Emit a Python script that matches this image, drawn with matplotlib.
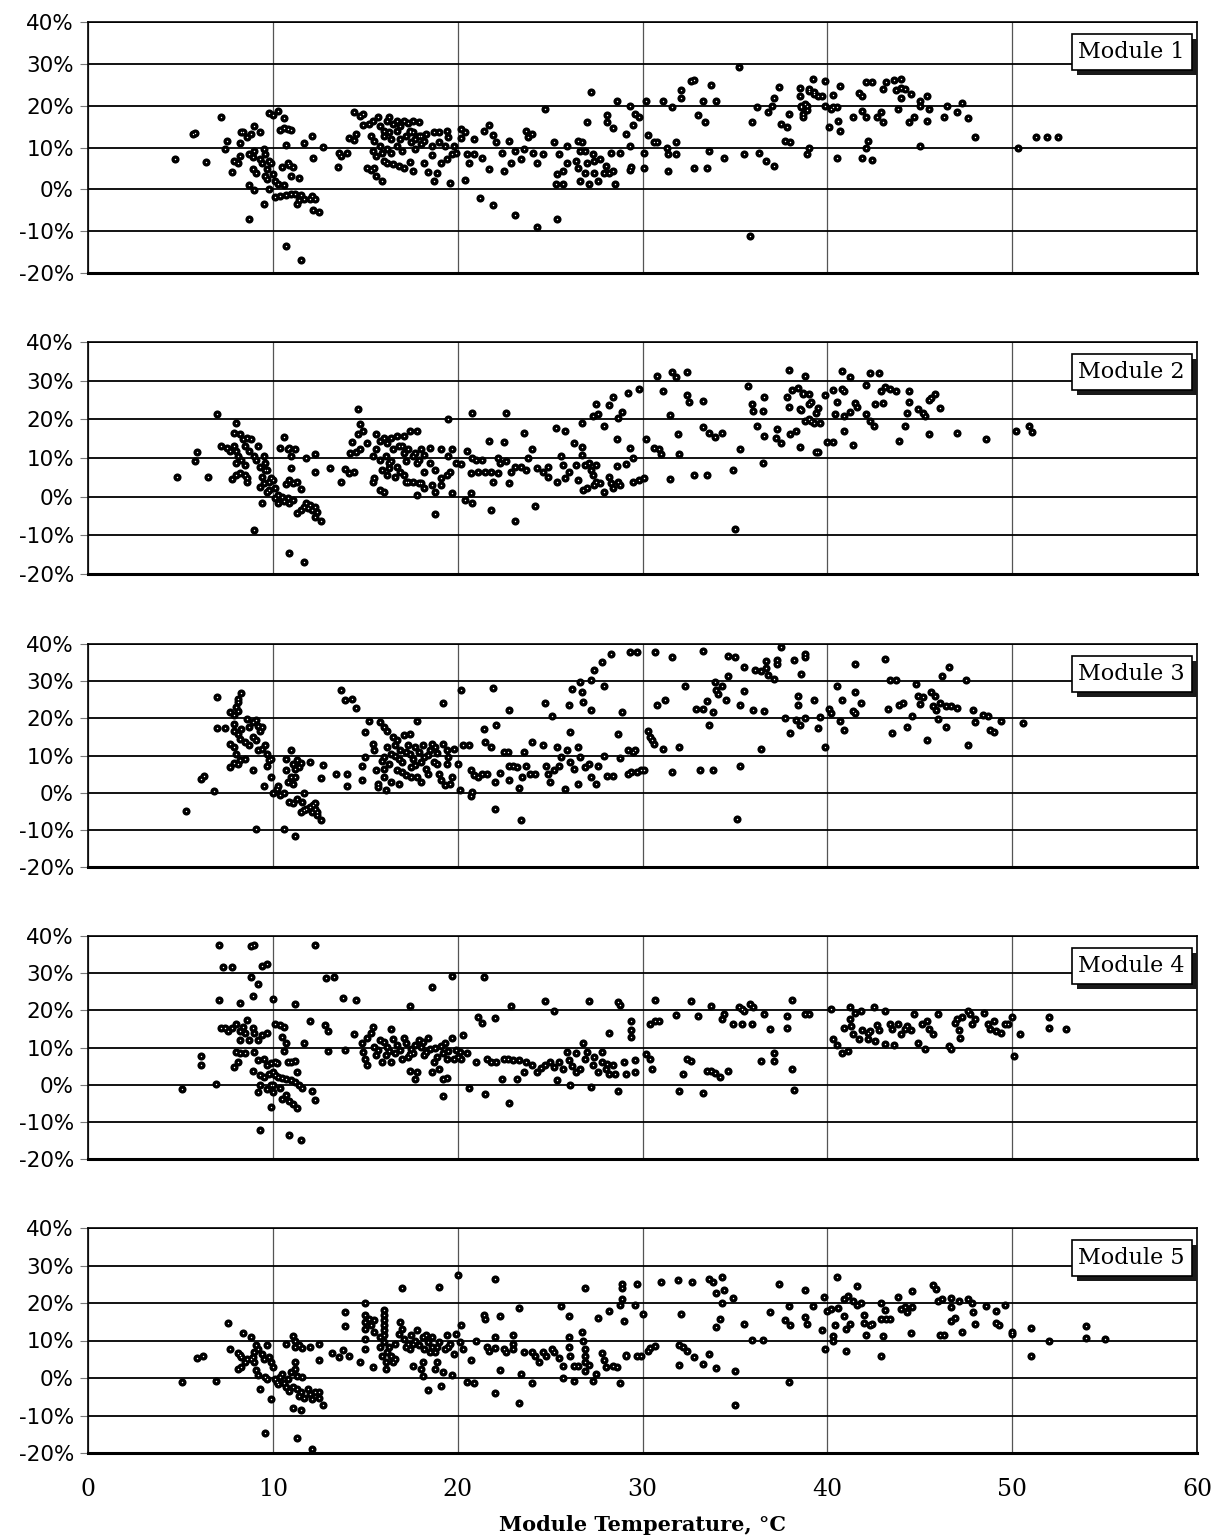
import matplotlib.pyplot as plt
import matplotlib.patheffects as pe
from matplotlib.transforms import offset_copy

# (module temperature in degC, deviation in %) for each module
module1 = [
    (4.7, 7.2), (5.7, 13.2), (5.8, 13.4), (6.4, 6.6), (7.2, 17.4), (7.4, 9.6), (7.5, 11.6),
    (7.8, 4.2), (7.9, 6.8), (8.1, 6.4), (8.2, 8.0), (8.2, 11.0), (8.3, 13.8), (8.4, 13.6),
    (8.6, 12.4), (8.8, 13.2), (9.0, 15.2), (9.3, 13.6), (8.7, 8.4), (8.9, 7.8), (8.9, 4.8),
    (9.0, 9.2), (9.1, 4.0), (9.3, 7.2), (9.4, 6.4), (9.5, 9.6), (9.6, 8.4), (9.7, 4.8),
    (9.8, 6.8), (9.9, 6.4), (9.6, 3.2), (9.7, 2.4), (8.7, 1.0), (9.0, -0.2), (9.5, -3.5),
    (8.7, -7.2), (9.8, 18.2), (10.0, 17.8), (10.3, 18.8), (10.6, 17.0), (10.4, 14.2),
    (10.6, 14.6), (10.8, 14.4), (11.0, 14.2), (10.7, 10.6), (10.5, 5.4), (10.8, 6.2),
    (10.9, 5.8), (11.1, 5.4), (11.0, 3.2), (11.4, 2.8), (10.0, 3.6), (10.1, 2.0), (10.3, 1.2),
    (10.6, 1.0), (9.8, 0.0), (10.1, -1.8), (10.4, -1.6), (10.7, -1.4), (11.0, -1.2),
    (11.2, -1.2), (11.5, -1.4), (11.7, -2.2), (12.0, -2.2), (12.1, -1.6), (12.3, -2.2),
    (11.3, -3.4), (11.4, -2.6), (12.2, -5.0), (12.5, -5.4), (10.7, -13.6), (11.5, -16.8),
    (11.7, 11.0), (12.1, 12.8), (12.2, 7.4), (12.7, 10.2), (13.5, 5.4), (13.6, 8.8),
    (13.7, 8.0), (14.0, 8.8), (14.1, 12.2), (14.4, 11.8), (14.5, 13.2), (14.4, 18.4),
    (14.7, 17.6), (14.9, 18.0), (14.9, 15.4),
    (15.2, 15.6), (15.4, 16.4), (15.7, 17.2), (15.8, 15.2), (16.0, 14.0), (16.2, 16.4),
    (16.3, 17.2), (16.5, 15.6), (16.7, 16.4), (16.9, 15.2), (17.1, 16.4), (17.3, 15.8),
    (17.6, 16.4), (17.9, 16.2), (15.3, 12.8), (15.5, 11.6), (15.8, 10.4), (16.0, 12.8),
    (16.3, 13.6), (16.4, 12.0), (16.7, 14.0), (16.9, 12.0), (17.2, 12.8), (17.4, 13.6),
    (17.7, 12.0), (17.9, 12.8), (15.4, 9.2), (15.6, 8.0), (15.9, 8.8), (16.2, 9.6),
    (16.4, 8.8), (16.7, 10.4), (17.0, 9.2), (17.7, 9.6), (15.1, 5.0), (15.3, 4.6),
    (15.5, 5.2), (15.6, 3.2), (15.9, 2.0), (16.0, 6.8), (16.2, 6.4), (16.5, 6.0),
    (16.8, 5.6), (17.1, 5.0), (17.4, 6.6), (17.6, 4.4),
    (17.4, 14.0), (17.6, 13.6), (18.0, 12.8), (18.3, 13.2), (18.7, 13.6), (19.0, 13.8),
    (19.4, 14.0), (19.5, 12.4), (17.5, 11.2), (18.0, 10.8), (18.2, 11.6), (18.6, 10.4),
    (19.0, 11.2), (19.3, 10.4), (19.8, 10.4), (18.6, 8.2), (19.1, 6.4), (19.4, 7.2),
    (19.7, 8.4), (19.9, 8.8), (18.2, 6.4), (18.4, 4.2), (18.7, 2.0), (18.9, 4.0), (19.6, 1.4),
    (20.2, 14.4), (20.4, 13.6), (20.2, 12.2), (20.5, 8.4), (20.6, 6.4), (20.4, 2.2),
    (20.9, 12.0), (20.9, 8.4), (21.3, 7.6), (21.4, 14.0), (21.7, 15.4), (21.9, 13.0),
    (21.7, 4.8), (22.1, 11.2), (22.4, 8.8), (22.5, 4.4), (22.8, 11.6), (22.9, 6.4),
    (23.1, 9.2), (23.4, 7.2), (23.6, 9.6), (23.7, 14.0), (24.0, 13.2), (23.8, 12.4),
    (24.1, 8.8), (24.3, 6.4), (24.6, 8.4), (24.7, 19.2), (25.2, 11.2), (25.4, 3.6),
    (25.7, 4.4), (25.3, 1.2), (25.7, 1.2), (25.5, 8.4), (25.9, 10.4), (25.9, 6.4),
    (26.5, 11.6), (26.7, 11.2), (26.4, 6.8), (26.5, 5.2), (26.6, 9.2), (26.9, 9.2),
    (27.0, 6.4), (26.6, 2.0), (26.9, 4.0), (27.1, 1.2), (27.3, 8.4), (27.4, 6.8),
    (27.4, 4.0), (27.7, 7.2), (27.6, 2.0), (27.9, 4.0), (28.0, 5.6), (28.2, 4.0),
    (28.4, 4.4), (28.5, 1.2), (28.3, 8.8), (28.8, 8.8), (27.2, 23.2), (27.0, 16.2),
    (28.1, 17.8), (28.1, 16.0), (28.4, 14.6), (29.1, 13.2), (29.3, 10.4), (29.3, 4.6),
    (29.4, 5.4), (29.5, 15.4), (29.6, 18.0), (29.8, 17.2), (28.6, 21.0), (29.3, 20.0),
    (21.2, -2.0), (21.9, -3.8), (23.1, -6.2), (24.3, -9.0), (25.4, -7.0),
    (30.1, 8.8), (30.1, 5.0), (30.2, 21.2), (30.3, 13.0), (30.6, 11.2), (30.8, 11.2),
    (31.1, 21.2), (31.3, 10.0), (31.4, 8.4), (31.4, 4.4), (31.6, 19.6), (31.8, 11.2),
    (31.8, 8.4), (32.1, 23.8), (32.1, 21.8), (32.6, 26.0), (32.8, 26.2), (32.8, 5.0),
    (33.0, 17.8), (33.3, 21.2), (33.4, 16.2), (33.5, 5.0), (33.6, 9.2), (33.7, 25.0),
    (34.0, 21.2), (34.4, 7.4), (35.2, 29.2), (35.5, 8.4), (35.8, -11.2), (35.9, 16.2),
    (36.2, 19.6), (36.3, 8.6), (36.7, 6.8), (36.8, 18.6), (37.0, 20.0), (37.1, 21.8),
    (37.1, 5.6), (37.4, 24.4), (37.5, 15.6), (37.8, 14.8), (37.7, 11.6), (38.0, 11.4),
    (37.9, 18.0), (38.5, 22.4), (38.5, 24.2), (38.6, 19.6), (38.7, 18.0), (38.8, 20.4),
    (38.9, 19.0), (39.0, 24.0), (39.2, 26.4), (39.3, 23.2), (39.0, 10.0), (38.9, 8.4),
    (39.5, 22.4), (39.0, 23.6), (39.3, 22.8), (39.9, 26.0), (39.7, 22.2), (38.6, 20.0),
    (38.9, 20.0), (38.7, 17.2), (39.9, 20.0), (40.2, 19.2), (40.3, 19.6), (40.5, 19.6),
    (40.3, 22.6), (40.7, 24.6), (40.1, 15.0), (40.6, 16.4), (40.7, 14.0), (40.5, 7.4),
    (41.4, 17.2), (41.7, 23.0), (41.9, 22.4), (41.9, 18.8), (42.1, 17.2), (42.1, 25.6),
    (42.4, 25.6), (42.2, 11.6), (42.1, 9.8), (41.9, 7.4), (42.4, 7.0), (42.7, 17.2),
    (42.9, 18.6), (43.0, 16.0), (43.0, 24.0), (43.2, 25.6), (43.6, 26.2), (44.0, 26.4),
    (43.7, 23.8), (44.0, 24.2), (44.2, 24.0), (44.0, 21.8), (43.8, 19.2), (44.5, 22.8),
    (44.4, 16.0), (44.7, 17.2), (45.0, 21.2), (45.0, 20.0), (45.4, 22.4), (45.5, 19.2),
    (45.4, 16.4), (45.0, 10.4), (46.3, 17.2), (46.5, 20.0), (47.0, 18.6), (47.3, 20.6),
    (47.6, 17.0), (48.0, 12.6), (50.3, 10.0), (51.3, 12.4), (51.9, 12.6), (52.5, 12.6),
]

module2 = [
    (4.8, 5.2), (5.8, 9.1), (5.9, 11.5), (6.5, 5.2), (7.0, 21.5), (7.2, 13.2), (7.5, 12.6),
    (7.7, 11.7), (7.9, 13.0), (8.0, 11.7), (7.9, 16.5), (8.0, 19.0), (8.2, 16.1), (8.4, 14.8),
    (8.6, 15.2), (8.8, 14.8), (8.5, 13.0), (8.7, 11.7), (8.1, 10.4), (8.0, 8.7), (8.3, 9.6),
    (8.5, 8.3), (8.2, 6.1), (8.0, 5.7), (7.8, 4.5), (8.5, 5.7), (8.6, 4.8), (8.6, 3.9),
    (9.0, 10.4), (9.2, 13.0), (9.1, 9.6), (9.5, 10.4), (9.6, 8.7), (9.3, 7.8), (9.6, 7.0),
    (9.4, 5.2), (9.7, 7.0), (9.3, 2.6), (9.5, 3.5), (9.8, 3.9), (9.9, 4.8), (10.0, 4.3),
    (10.1, 2.2), (9.8, 1.7), (9.7, 1.3), (9.4, -1.6), (9.0, -8.7),
    (10.3, 0.4), (10.5, 0.0), (10.1, -0.4), (10.3, -1.7), (10.6, -1.0), (10.8, -0.4),
    (10.9, -1.7), (11.1, -0.9), (11.3, -4.3), (11.5, -3.5), (11.7, -2.6), (11.8, -1.7),
    (11.9, -3.0), (12.1, -3.5), (12.3, -2.6), (12.4, -3.9), (12.3, -5.2), (12.6, -6.3),
    (12.0, -2.2), (10.4, 12.6), (10.6, 15.4), (10.8, 12.2), (10.9, 12.6), (11.0, 10.4),
    (11.2, 12.2), (11.0, 7.4), (10.7, 3.3), (10.9, 4.2), (11.1, 3.5), (11.3, 3.7),
    (11.5, 1.9), (11.8, 10.0), (12.3, 11.0), (12.3, 6.3), (13.1, 7.4), (10.9, -14.5),
    (11.7, -17.0), (13.7, 3.9), (13.9, 7.1), (14.1, 6.1), (14.4, 6.3), (14.2, 11.3),
    (14.3, 14.1), (14.5, 11.6), (14.7, 12.2), (14.6, 16.1), (14.7, 18.7), (14.6, 22.8),
    (14.9, 17.0), (15.1, 13.9),
    (15.4, 3.7), (15.5, 4.8), (15.8, 1.7), (16.0, 1.3), (15.4, 10.4), (15.6, 12.2),
    (15.6, 16.1), (15.8, 14.3), (16.0, 15.2), (16.2, 13.9), (16.4, 15.2), (16.7, 15.7),
    (17.1, 15.7), (17.4, 17.0), (17.8, 17.0), (15.8, 9.6), (16.1, 10.4), (16.3, 8.7),
    (16.5, 12.2), (16.8, 13.0), (17.1, 11.3), (17.3, 12.2), (17.6, 10.4), (17.9, 9.6),
    (15.9, 7.0), (16.2, 5.7), (16.3, 7.4), (16.6, 5.2), (16.9, 6.5), (17.1, 5.7),
    (17.2, 3.9), (17.6, 3.9), (17.9, 3.5), (17.8, 0.4), (16.4, 9.1), (16.7, 7.8),
    (17.0, 13.0), (17.7, 11.3), (18.0, 12.2), (18.2, 10.9), (18.5, 12.6), (17.2, 9.1),
    (17.8, 8.7), (18.2, 6.5), (18.5, 8.7), (17.3, 3.7), (18.0, 3.5), (18.2, 2.2),
    (18.6, 3.0), (18.8, 1.3), (19.1, 3.0), (19.1, 4.8), (19.4, 5.7), (19.6, 6.5),
    (19.7, 0.9), (18.8, 6.8), (19.1, 12.2), (19.7, 12.3), (19.5, 10.6), (19.9, 8.7),
    (18.8, -4.6), (19.5, 20.0),
    (20.2, 8.5), (20.5, 11.7), (20.8, 10.0), (20.8, 21.6), (21.0, 9.6), (21.3, 9.6),
    (20.7, 6.1), (21.1, 6.5), (21.5, 6.5), (21.7, 14.3), (21.8, 6.5), (22.2, 10.0),
    (22.3, 8.7), (22.6, 9.1), (22.5, 14.1), (22.6, 21.6), (22.2, 6.1), (21.9, 3.9),
    (22.8, 3.5), (22.9, 6.3), (23.1, 7.8), (23.4, 7.8), (23.7, 7.0), (23.8, 10.0),
    (24.0, 12.2), (23.6, 16.5), (24.3, 7.4), (24.6, 6.5), (24.9, 7.8), (24.9, 5.2),
    (25.4, 3.9), (25.6, 10.4), (25.7, 8.3), (25.8, 4.8), (26.0, 6.3), (25.3, 17.8),
    (25.8, 17.0), (26.3, 13.9), (26.4, 8.3), (26.5, 4.3), (26.7, 12.9), (26.7, 10.9),
    (26.7, 19.0), (26.9, 8.3), (27.1, 8.7), (27.2, 7.0), (27.3, 5.7), (27.5, 8.3),
    (27.4, 3.0), (26.8, 1.7), (27.0, 2.2), (27.5, 3.9), (27.7, 3.5), (27.9, 1.3),
    (28.2, 5.2), (28.3, 3.5), (28.4, 2.2), (28.7, 3.9), (28.8, 3.0), (28.6, 8.0),
    (27.3, 20.9), (27.5, 23.9), (27.6, 21.3), (28.2, 23.8), (28.4, 25.9), (27.9, 18.3),
    (28.6, 15.0), (28.7, 20.4), (28.9, 22.0), (29.2, 26.7), (29.3, 12.6), (29.1, 8.4),
    (29.5, 10.0), (29.8, 27.8), (29.5, 3.7), (29.8, 4.2), (30.1, 4.8), (21.8, -3.5),
    (20.8, -1.6), (20.4, -0.9), (23.1, -6.3), (24.2, -2.4), (20.7, 1.0),
    (30.2, 15.0), (30.6, 12.6), (30.9, 12.3), (31.0, 11.1), (30.8, 31.3), (31.1, 27.4),
    (31.6, 32.3), (31.8, 30.9), (32.4, 32.2), (31.5, 21.0), (31.9, 16.3), (32.0, 11.1),
    (31.5, 4.5), (32.4, 26.4), (32.5, 24.5), (32.8, 5.5), (33.3, 24.7), (33.3, 18.1),
    (33.6, 16.5), (33.9, 15.5), (33.5, 5.5), (34.3, 16.5), (34.9, 7.0), (35.0, -8.3),
    (35.3, 12.2), (35.7, 28.5), (35.9, 23.9), (36.0, 22.2), (36.5, 22.2), (36.2, 18.3),
    (36.6, 15.8), (36.6, 25.7), (36.5, 8.7), (37.2, 15.2), (37.3, 17.6), (37.5, 13.9),
    (37.8, 25.7), (37.9, 32.8), (37.9, 23.3), (38.1, 27.6), (38.4, 28.0), (38.0, 16.1),
    (38.3, 17.0), (38.5, 12.9), (38.6, 22.4), (38.7, 26.5), (39.0, 26.5), (39.1, 24.5),
    (39.1, 19.6), (39.4, 21.7), (39.5, 11.5), (38.8, 31.1),
    (38.5, 22.6), (38.7, 26.8), (39.0, 24.0), (38.8, 19.6), (39.0, 20.0), (39.3, 19.1),
    (39.6, 19.0), (39.5, 23.0), (39.9, 26.3), (39.4, 11.5), (40.0, 14.1), (40.3, 14.1),
    (40.3, 27.6), (40.8, 27.8), (40.9, 27.2), (40.8, 32.4), (41.2, 30.9), (40.5, 24.5),
    (40.4, 21.3), (40.9, 20.9), (41.2, 21.9), (40.9, 17.0), (41.4, 13.3), (41.5, 24.2),
    (41.6, 23.3), (42.1, 21.3), (42.1, 28.9), (42.3, 32.0), (42.8, 32.0), (42.3, 19.6),
    (42.5, 18.4), (42.6, 23.9), (43.0, 24.1), (42.9, 27.2), (43.1, 28.3), (43.4, 27.8),
    (43.7, 27.4), (44.4, 27.4), (44.4, 24.5), (44.3, 21.6), (44.2, 18.3), (43.9, 14.3),
    (44.9, 22.6), (45.2, 21.7), (45.3, 20.9), (45.5, 25.0), (45.6, 25.4), (45.8, 26.5),
    (46.1, 22.9), (45.5, 16.3), (47.0, 16.5), (48.6, 15.0), (50.2, 17.0), (50.9, 18.4),
    (51.1, 16.7),
]

module3 = [
    (5.3, -4.8), (6.1, 3.7), (6.3, 4.4), (6.8, 0.4), (7.0, 25.7), (7.0, 17.5), (7.4, 17.5),
    (7.7, 6.9), (7.9, 8.0), (8.1, 7.6), (8.2, 8.7), (8.5, 9.1), (7.7, 21.7), (7.9, 21.0),
    (8.0, 23.0), (8.1, 24.4), (8.1, 25.2), (8.3, 26.8), (8.1, 22.0), (7.9, 18.5),
    (7.9, 16.7), (8.1, 15.8), (8.3, 17.2), (8.6, 19.9), (8.7, 17.6), (8.9, 19.0),
    (9.1, 19.6), (9.2, 18.0), (9.3, 16.7), (9.4, 17.8), (7.7, 13.2), (7.9, 12.3),
    (8.0, 10.3), (8.2, 14.5), (8.5, 13.6), (8.7, 12.7), (8.9, 15.0), (9.1, 14.1),
    (9.2, 11.4), (9.4, 11.8), (9.6, 12.7), (9.7, 10.5), (9.7, 7.1), (9.8, 8.7), (9.9, 9.1),
    (8.9, 6.2), (9.5, 1.9), (9.1, -9.9),
    (9.9, 4.2), (10.0, 0.0), (10.2, 1.1), (10.3, 1.7), (10.4, -0.7), (10.6, -0.1),
    (10.7, 6.0), (10.8, 2.9), (10.7, 9.1), (11.0, 11.4), (11.0, 4.2), (11.1, 7.8),
    (11.2, 6.4), (11.3, 8.7), (11.4, 6.9), (11.5, 8.0), (11.2, 4.2), (11.1, 2.2),
    (10.9, -2.5), (11.1, -2.8), (11.3, -1.6), (11.6, -2.5), (11.7, 0.0), (11.8, -4.3),
    (12.0, -3.8), (12.2, -3.4), (12.3, -2.8), (12.1, -5.2), (12.3, -4.3), (11.5, -5.2),
    (11.7, -4.7), (12.4, -6.1), (12.4, -5.2), (12.6, -7.3), (12.0, 8.2), (10.6, -9.9),
    (11.2, -11.6), (12.6, 4.0), (12.7, 7.5), (13.4, 5.1), (14.0, 5.1), (14.0, 1.7),
    (14.8, 3.5), (13.7, 27.5), (13.9, 25.0), (14.3, 25.3), (14.5, 22.8), (14.8, 7.3),
    (15.0, 9.6), (15.0, 16.3), (15.2, 19.4),
    (15.4, 13.2), (15.5, 11.4), (15.6, 6.0), (15.7, 2.4), (15.7, 1.5), (15.8, 19.0),
    (16.0, 17.6), (16.0, 9.6), (16.0, 4.2), (16.1, 0.8), (16.2, 16.7), (16.2, 12.3),
    (16.3, 7.8), (16.4, 2.9), (16.5, 15.0), (16.6, 10.0), (16.7, 6.0), (16.7, 14.1),
    (16.8, 2.4), (16.9, 11.4), (17.0, 8.2), (17.1, 15.4), (17.2, 4.7), (17.3, 12.7),
    (17.4, 10.5), (17.4, 15.7), (17.5, 6.9), (17.6, 9.1), (17.7, 12.3), (17.8, 19.2),
    (17.8, 4.2), (17.9, 10.9), (18.0, 8.2), (18.0, 2.9), (18.1, 12.7), (18.2, 9.6),
    (18.3, 6.4), (18.4, 5.1), (18.5, 11.4), (18.6, 13.2), (18.7, 8.2), (18.8, 12.3),
    (18.9, 7.8), (19.0, 5.1), (19.1, 3.3), (19.2, 13.2), (19.3, 2.0), (19.4, 7.8),
    (19.5, 9.6), (19.6, 2.2), (19.7, 4.2), (19.2, 24.1), (16.4, 10.5), (16.8, 9.1),
    (17.2, 10.9), (16.0, 6.4), (17.5, 4.2), (15.9, 8.5), (16.6, 12.8), (17.0, 5.6),
    (17.7, 7.4), (18.4, 10.2), (18.9, 10.6), (19.4, 11.6),
    (19.8, 11.8), (20.0, 7.8), (20.1, 0.8), (20.2, 27.5), (20.3, 12.7), (20.6, 12.7),
    (20.7, 6.0), (20.7, -1.0), (20.8, 0.2), (20.9, 4.7), (21.1, 4.2), (21.3, 5.1),
    (21.4, 17.2), (21.5, 13.6), (21.6, 5.1), (21.8, 12.3), (21.9, 28.1), (22.0, 3.0),
    (22.0, -4.5), (22.1, 18.1), (22.3, 5.3), (22.5, 10.9), (22.7, 10.9), (22.8, 22.3),
    (22.8, 7.3), (22.8, 3.3), (23.0, 7.3), (23.2, 6.9), (23.3, 1.3), (23.4, -7.3),
    (23.5, 4.2), (23.6, 10.9), (23.7, 7.3), (23.9, 5.1), (24.0, 13.6), (24.2, 5.1),
    (24.6, 12.7), (24.7, 24.1), (24.8, 7.3), (24.9, 5.1), (25.0, 2.9), (25.1, 20.5),
    (25.2, 6.0), (25.4, 12.3), (25.5, 7.3), (25.6, 9.6), (25.8, 1.1), (25.9, 11.4),
    (26.0, 23.5), (26.1, 8.2), (26.1, 16.3), (26.2, 27.9), (26.3, 6.4), (26.5, 12.4),
    (26.5, 2.4), (26.6, 29.7), (26.6, 9.6), (26.7, 27.0), (26.8, 24.4), (26.9, 6.9),
    (27.1, 7.8), (27.2, 30.2), (27.2, 22.3), (27.2, 4.2), (27.4, 32.9), (27.5, 2.4),
    (27.6, 7.3), (27.8, 35.1), (27.9, 10.0), (27.9, 28.8), (28.1, 4.4), (28.3, 37.3),
    (28.4, 4.4), (28.7, 15.7), (28.8, 9.3), (28.9, 21.7), (29.2, 11.4), (29.2, 5.1),
    (29.3, 37.8), (29.4, 5.6), (29.5, 10.9), (29.6, 11.5), (29.7, 5.6), (29.9, 6.0),
    (30.1, 6.0), (29.7, 37.8), (30.3, 16.7), (30.4, 15.0), (30.5, 14.1), (30.6, 13.2),
    (30.7, 37.8), (30.8, 23.5), (31.1, 11.8), (31.2, 25.0), (31.6, 5.6), (31.6, 36.4),
    (32.0, 12.3), (32.3, 28.6), (32.9, 22.4), (33.1, 6.2), (33.3, 22.4), (33.3, 38.0),
    (33.5, 24.6), (33.6, 18.3), (33.8, 6.2), (33.8, 21.7), (33.9, 29.7), (34.0, 27.7),
    (34.1, 26.6), (34.3, 28.6), (34.5, 25.0), (34.6, 31.5), (34.6, 36.9), (35.0, 36.4),
    (35.1, -7.0), (35.3, 7.3), (35.3, 23.5), (35.5, 33.8), (35.5, 27.3), (36.0, 22.3),
    (36.1, 33.0), (36.4, 32.8), (36.4, 11.8), (36.6, 21.9), (36.7, 35.5), (36.7, 33.6),
    (36.8, 31.7), (37.1, 30.6), (37.3, 35.7), (37.3, 34.6), (37.5, 39.3), (37.7, 20.1),
    (38.0, 16.0), (38.2, 35.7), (38.3, 19.6), (38.4, 25.9), (38.4, 23.5), (38.5, 18.1),
    (38.6, 31.8), (38.8, 37.3), (38.8, 36.4), (38.8, 20.1), (39.3, 25.0), (39.5, 17.5),
    (39.6, 20.3), (39.9, 12.4), (40.1, 22.6), (40.2, 21.4), (40.5, 28.8), (40.7, 19.4),
    (40.8, 24.8), (40.9, 16.9), (41.4, 22.1), (41.5, 27.0), (41.5, 34.5), (41.5, 21.4),
    (41.8, 24.1), (43.1, 36.0), (43.3, 22.6), (43.4, 30.3), (43.5, 16.0), (43.7, 30.3),
    (43.9, 23.7), (44.1, 24.1), (44.3, 17.6), (44.6, 20.5), (44.8, 29.3), (44.9, 26.1),
    (45.0, 23.9), (45.2, 25.7), (45.4, 14.2), (45.6, 27.0), (45.7, 23.2), (45.8, 25.9),
    (45.9, 22.3), (46.0, 19.9), (46.1, 24.1), (46.2, 31.5), (46.4, 17.6), (46.4, 23.2),
    (46.6, 33.9), (46.7, 23.2), (47.0, 22.8), (47.5, 30.2), (47.6, 12.7), (47.9, 22.3),
    (48.0, 19.0), (48.4, 20.8), (48.7, 20.5), (48.8, 16.9), (49.0, 16.3), (49.4, 19.2),
    (50.6, 18.7),
]

module4 = [
    (5.1, -1.3), (6.1, 7.8), (6.1, 5.2), (6.9, 0.3), (7.1, 37.5), (7.3, 31.6), (7.8, 31.6),
    (7.1, 22.7), (8.2, 21.9), (8.8, 37.3), (9.0, 37.7), (8.8, 28.9), (9.2, 27.1),
    (8.9, 23.9), (9.4, 31.9), (9.7, 32.5), (10.0, 23.1), (11.2, 21.8), (12.3, 37.7),
    (12.9, 28.7), (13.3, 29.0), (13.8, 23.3), (14.5, 22.7),
    (7.2, 15.3), (7.4, 15.2), (7.6, 14.4), (7.8, 15.2), (8.0, 16.2), (8.2, 14.4),
    (8.4, 15.6), (8.5, 13.8), (8.6, 17.4), (8.9, 15.2), (9.0, 13.8), (9.2, 12.0),
    (9.4, 13.4), (9.7, 13.8), (8.7, 12.0), (8.2, 12.0), (10.1, 16.2), (10.4, 16.1),
    (10.6, 15.6), (10.5, 12.9), (10.7, 11.1), (10.6, 9.0), (8.0, 8.8), (8.2, 8.4),
    (8.5, 8.6), (9.0, 8.7), (8.1, 6.1), (7.9, 4.8), (8.9, 3.6), (9.2, 6.6), (9.5, 7.0),
    (9.7, 5.2), (9.9, 5.7), (10.1, 6.0), (10.2, 5.7), (10.8, 6.1), (11.0, 6.1),
    (11.2, 6.3), (11.3, 3.4), (9.3, 2.7), (9.5, 2.1), (9.8, 3.0), (10.0, 3.4), (10.1, 2.7),
    (10.3, 2.1), (10.5, 1.8), (10.7, 1.4), (11.0, 1.2), (11.2, 0.7), (11.4, -0.2),
    (11.6, -0.9), (9.3, 0.0), (9.2, -2.0), (9.7, -1.1), (9.9, -0.2), (10.0, 0.0),
    (10.4, -0.9), (10.0, -2.0), (10.7, -2.9), (10.5, -3.8), (10.9, -4.5), (11.1, -5.1),
    (11.3, -6.3), (9.9, -5.9), (12.1, -1.8), (12.3, -4.2), (9.3, -12.1), (10.9, -13.5),
    (11.5, -14.8), (12.0, 17.1), (11.7, 11.1), (12.8, 16.1), (13.0, 14.4), (13.0, 9.0),
    (13.9, 9.3), (14.4, 13.6),
    (14.8, 11.1), (14.9, 8.8), (15.0, 7.0), (15.1, 5.4), (15.1, 12.5), (15.3, 13.8),
    (15.4, 15.6), (15.5, 10.2), (15.6, 7.9), (15.8, 12.0), (15.9, 6.1), (16.1, 7.9),
    (16.2, 10.2), (16.4, 15.0), (16.4, 6.1), (16.6, 8.4), (16.7, 10.6), (16.9, 9.3),
    (17.0, 7.0), (17.2, 11.1), (17.3, 7.5), (17.4, 3.6), (17.5, 9.6), (17.6, 8.4),
    (17.7, 1.4), (17.8, 3.4), (17.9, 12.0), (18.0, 10.2), (18.2, 7.9), (18.4, 12.5),
    (18.5, 9.6), (18.6, 3.4), (18.7, 6.1), (18.9, 7.5), (19.0, 4.3), (19.2, 8.4),
    (19.3, 11.1), (19.4, 7.0), (19.5, 9.0), (19.7, 12.5), (19.8, 7.0), (19.9, 9.3),
    (20.0, 7.5), (19.2, 1.4), (19.4, 1.8), (19.2, -3.1), (18.6, 26.2), (17.4, 21.2),
    (19.7, 29.2), (15.7, 9.4), (16.0, 11.4), (16.5, 12.4), (17.1, 12.6), (17.7, 10.8),
    (18.3, 8.8), (18.8, 9.8), (16.3, 9.0), (17.4, 8.2), (18.1, 11.6), (19.1, 10.4),
    (20.1, 8.8), (20.2, 7.0), (20.3, 13.4),
    (20.5, 8.4), (20.6, -0.9), (21.0, 6.1), (21.1, 18.3), (21.3, 16.5), (21.4, 28.9),
    (21.5, -2.4), (21.6, 7.0), (21.8, 6.0), (22.0, 17.9), (22.1, 6.1), (22.4, 1.4),
    (22.5, 7.0), (22.7, 7.0), (22.8, -4.9), (22.9, 21.2), (23.0, 6.6), (23.2, 1.4),
    (23.3, 6.6), (23.6, 3.4), (23.7, 6.1), (24.0, 5.2), (24.3, 3.4), (24.7, 22.6),
    (24.7, 5.2), (25.0, 6.1), (25.2, 19.9), (25.4, 1.2), (25.5, 6.1), (25.7, 4.3),
    (26.0, 6.6), (26.1, -0.2), (26.4, 8.4), (26.6, 4.3), (26.9, 7.0), (27.0, 8.8),
    (27.1, 22.4), (27.2, -0.6), (27.3, 5.2), (27.4, 7.5), (27.6, 3.4), (27.8, 6.1),
    (28.0, 4.3), (28.2, 3.0), (28.4, 5.2), (28.5, 3.0), (28.7, 22.2), (28.8, 21.5),
    (28.7, -1.8), (29.0, 6.0), (29.1, 3.0), (29.4, 17.0), (29.4, 14.7), (29.4, 12.9),
    (28.2, 13.8), (29.6, 3.4), (29.6, 6.6), (26.8, 11.1), (25.9, 8.8), (26.4, 3.4),
    (27.8, 8.8), (24.5, 4.4), (25.2, 4.8), (26.2, 5.0), (28.1, 5.6),
    (30.2, 8.3), (30.4, 7.0), (30.5, 4.3), (30.4, 16.4), (30.7, 22.7), (30.7, 17.1),
    (30.9, 17.1), (31.8, 18.8), (32.0, -1.6), (32.2, 2.9), (32.4, 6.9), (32.6, 6.3),
    (32.6, 22.4), (33.0, 18.5), (33.3, -2.3), (33.5, 3.8), (33.7, 3.6), (33.9, 3.2),
    (34.2, 2.0), (34.6, 3.6), (33.7, 21.2), (34.3, 17.6), (34.4, 19.1), (34.9, 16.2),
    (35.2, 20.9), (35.4, 16.4), (35.5, 19.7), (35.8, 21.8), (36.0, 20.9), (35.4, 20.3),
    (35.9, 16.2), (36.4, 6.3), (36.6, 19.1), (36.9, 15.1), (37.1, 8.6), (37.1, 6.3),
    (37.8, 15.2), (37.8, 18.5), (38.1, 22.7), (38.1, 4.3), (38.2, -1.4), (38.8, 19.0),
    (39.0, 19.0),
    (40.2, 20.3), (40.3, 12.2), (40.5, 10.8), (40.8, 8.6), (40.9, 15.2), (41.1, 9.0),
    (41.2, 20.9), (41.2, 17.8), (41.3, 15.8), (41.4, 13.5), (41.5, 19.4), (41.7, 12.2),
    (41.8, 19.7), (41.9, 14.6), (42.2, 12.2), (42.2, 14.0), (42.3, 14.4), (42.5, 20.9),
    (42.6, 11.7), (42.7, 16.1), (42.8, 14.6), (43.1, 19.7), (43.1, 11.0), (43.4, 16.2),
    (43.5, 14.9), (43.6, 10.8), (43.8, 16.2), (44.0, 13.5), (44.2, 14.9), (44.3, 15.8),
    (44.5, 14.6), (44.7, 19.0), (44.9, 11.3), (45.1, 16.4), (45.3, 9.5), (45.4, 17.0),
    (45.5, 14.9), (45.7, 13.7), (46.0, 19.0), (46.6, 10.4), (46.7, 9.5), (46.9, 16.7),
    (47.0, 17.6), (47.1, 14.6), (47.2, 12.6), (47.3, 18.2), (47.6, 19.7), (47.7, 19.0),
    (47.8, 16.2), (48.0, 17.6), (48.5, 19.4), (48.7, 16.4), (48.8, 14.9), (49.0, 17.1),
    (49.1, 14.4), (49.4, 14.0), (49.6, 16.4), (49.8, 16.2), (50.0, 18.2), (50.4, 13.7),
    (50.1, 7.7), (52.0, 18.2), (52.0, 15.2), (52.9, 14.9),
]

module5 = [
    (5.1, -1.0), (5.9, 5.3), (6.2, 6.0), (6.9, -0.9), (7.6, 14.8), (7.7, 7.8), (8.4, 12.1),
    (8.8, 10.9), (9.7, 8.7), (8.1, 6.7), (8.2, 6.2), (8.3, 5.6), (8.1, 2.4), (8.3, 2.9),
    (8.5, 4.2), (8.6, 5.1), (8.8, 5.1), (8.9, 5.6), (9.0, 6.9), (9.1, 8.9), (9.2, 7.8),
    (9.4, 6.4), (9.5, 5.1), (9.0, 4.2), (9.1, 2.2), (9.2, 0.8), (9.3, -2.8), (9.6, 0.2),
    (9.7, -0.3), (9.8, 5.6), (9.9, 4.2), (10.0, 2.9), (10.1, -0.3), (9.9, -5.5),
    (10.2, -1.0), (10.3, -1.6), (10.4, 0.2), (10.5, 1.1), (10.6, -1.2), (10.7, -2.5),
    (10.8, -0.3), (10.9, -3.4), (11.0, 1.5), (11.1, -2.5), (11.2, 2.4), (11.2, 4.4),
    (11.3, 0.6), (11.3, -3.0), (11.4, -4.7), (11.6, 0.2), (11.5, -3.8), (11.7, -5.2),
    (11.9, -3.0), (12.0, -4.3), (12.1, -5.6), (12.3, -3.7), (12.5, -5.2), (12.5, -3.7),
    (12.7, -7.3), (11.1, -7.9), (11.5, -8.5), (10.7, 9.1), (11.1, 11.2), (11.2, 10.0),
    (11.2, 8.2), (11.4, 8.7), (11.6, 8.0), (12.0, 8.2), (12.5, 9.1), (9.6, -14.6),
    (11.3, -16.1), (12.1, -18.8), (12.5, 4.7),
    (13.2, 6.7), (13.6, 5.6), (13.8, 7.6), (14.1, 5.8), (13.9, 17.5), (13.9, 13.8),
    (14.7, 4.2), (15.0, 19.9), (15.0, 16.9), (15.0, 15.0), (15.0, 13.2), (15.0, 10.5),
    (15.0, 7.8), (15.2, 15.8), (15.3, 14.1), (15.5, 15.4), (15.5, 12.3), (15.4, 2.9),
    (15.8, 10.9), (15.8, 8.2), (15.9, 6.0), (16.0, 18.1), (16.0, 16.7), (16.0, 15.4),
    (16.0, 14.1), (16.0, 12.7), (16.0, 11.4), (16.0, 9.6), (16.1, 4.2), (16.1, 2.4),
    (16.2, 6.9), (16.3, 8.2), (16.4, 6.0), (16.5, 4.2), (16.6, 5.1), (16.8, 11.8),
    (16.9, 15.0), (17.0, 13.2), (17.1, 10.5), (17.3, 9.1), (17.4, 7.8), (17.5, 11.4),
    (17.7, 10.0), (17.8, 12.7), (17.9, 8.7), (18.0, 2.4), (18.1, 0.6), (18.1, 10.9),
    (18.2, 7.8), (18.4, 9.6), (18.4, -3.1), (18.6, 8.2), (18.6, 10.9), (18.8, 6.9),
    (18.8, 2.4), (18.9, 4.2), (19.0, 9.6), (19.1, -2.2), (19.2, 1.5), (19.3, 7.8),
    (19.4, 11.4), (19.6, 9.1), (19.7, 0.8), (19.8, 6.4), (19.9, 11.8), (20.0, 27.5),
    (20.1, 9.6), (17.0, 23.9), (19.0, 24.4), (17.6, 3.3), (18.1, 4.2), (18.5, 6.9),
    (16.6, 9.0), (17.2, 8.4), (17.6, 9.2), (18.3, 11.6), (18.9, 8.4), (19.5, 8.2),
    (20.2, 14.1), (20.3, 7.8), (20.5, -1.0), (20.7, 4.7), (20.9, -1.2), (21.0, 9.8),
    (21.4, 16.9), (21.5, 15.7), (21.6, 8.2), (21.7, 7.3), (22.0, 26.3), (22.0, 10.9),
    (22.0, 8.0), (22.0, -4.0), (22.3, 16.6), (22.3, 2.1), (22.5, 7.8), (22.6, 6.9),
    (23.0, 11.4), (23.0, 9.1), (23.0, 7.8), (23.3, -6.7), (23.3, 18.8), (23.4, 1.1),
    (23.6, 6.9), (24.0, 6.9), (24.0, -1.2), (24.2, 6.0), (24.4, 4.2), (24.6, 6.9),
    (24.8, 6.0), (25.1, 7.8), (25.2, 6.9), (25.5, 5.4), (25.6, 19.2), (25.7, -0.1),
    (25.7, 3.3), (26.0, 16.6), (26.0, 10.9), (26.0, 8.2), (26.1, 6.0), (26.3, -0.7),
    (26.3, 3.3), (26.5, 3.1), (26.7, 12.4), (26.8, 10.0), (26.9, 7.8), (26.9, 6.0),
    (26.9, 4.4), (26.9, 2.0), (27.1, 3.5), (27.3, -0.7), (27.5, 1.1), (26.9, 23.9),
    (27.6, 16.0), (27.8, 6.7), (27.9, 4.7), (28.0, 2.9), (28.2, 17.8), (28.4, 3.3),
    (28.6, 2.9), (28.8, -1.3), (28.8, 19.6), (28.9, 25.0), (28.9, 23.9), (28.9, 21.2),
    (29.0, 15.1), (29.1, 6.2), (29.1, 6.0), (29.6, 19.4), (29.7, 25.2), (29.7, 6.0),
    (29.9, 6.0), (30.0, 17.2), (30.3, 7.3), (30.4, 8.0), (30.7, 8.5), (31.0, 25.5),
    (31.9, 26.1), (32.0, 8.9), (32.0, 3.5), (32.1, 17.0), (32.2, 8.2), (32.4, 7.1),
    (32.7, 25.5), (32.8, 5.6), (33.3, 3.8), (33.6, 6.4), (33.6, 26.4), (33.8, 25.7),
    (34.0, 13.6), (34.0, 2.6), (34.0, 22.8), (34.3, 27.0), (34.2, 15.8), (34.3, 20.1),
    (34.4, 23.5), (34.9, 21.4), (35.0, 1.8), (35.0, -7.3), (35.5, 14.5), (35.9, 10.2),
    (36.5, 10.2), (36.9, 17.6), (37.4, 25.0), (37.7, 15.4), (37.9, 19.2), (37.9, -1.0),
    (38.0, 14.1), (38.8, 16.3), (38.8, 23.5), (38.9, 14.5), (39.2, 19.2), (39.7, 12.7),
    (39.8, 21.7), (39.9, 7.8), (40.0, 17.8), (40.2, 18.5), (40.3, 11.2), (40.3, 10.0),
    (40.4, 14.1), (40.5, 26.9), (40.6, 18.7), (40.9, 16.6), (40.9, 21.2), (41.0, 13.0),
    (41.0, 7.3), (41.1, 21.9), (41.2, 14.5), (41.4, 20.5), (41.6, 19.6), (41.6, 24.6),
    (41.8, 19.9), (42.0, 16.9), (42.0, 14.8), (42.1, 11.6), (42.3, 14.1), (42.4, 14.5),
    (42.9, 19.9), (42.9, 15.7), (43.0, 11.2), (42.9, 5.8), (43.1, 18.1), (43.2, 15.7),
    (43.4, 15.7), (43.8, 21.7), (44.0, 18.4), (44.2, 19.0), (44.3, 17.6), (44.5, 12.1),
    (44.6, 19.0), (44.6, 23.2), (45.7, 24.8), (45.9, 23.7), (46.0, 20.5), (46.1, 11.5),
    (46.2, 21.2), (46.3, 11.4), (46.7, 15.1), (46.7, 19.0), (46.7, 21.4), (46.9, 16.0),
    (47.1, 20.5), (47.3, 12.4), (47.6, 21.0), (47.8, 20.1), (47.9, 17.5), (48.0, 14.5),
    (48.6, 19.2), (49.1, 17.9), (49.1, 14.8), (49.3, 14.1), (49.6, 19.4), (50.0, 12.4),
    (50.0, 11.8), (51.0, 13.3), (51.0, 5.8), (52.0, 9.8), (54.0, 13.8), (54.0, 10.7),
    (55.0, 10.5),
]

modules = [("Module 1", module1), ("Module 2", module2), ("Module 3", module3),
           ("Module 4", module4), ("Module 5", module5)]

W, H = 1220, 1538
fig = plt.figure(figsize=(W / 100, H / 100), dpi=100)

# top / bottom pixel rows of each panel
panel_rows = [(22, 273), (342, 574), (644, 867), (936, 1159), (1228, 1453)]
left, right = 88, 1197

for i, ((name, pts), (top, bottom)) in enumerate(zip(modules, panel_rows)):
    ax = fig.add_axes([left / W, 1 - bottom / H, (right - left) / W, (bottom - top) / H])
    xs = [p[0] for p in pts]
    ys = [p[1] for p in pts]
    ax.scatter(xs, ys, s=34, c='black', linewidths=0, zorder=3)
    ax.scatter(xs, ys, s=1, c='white', linewidths=0, zorder=4)

    ax.set_xlim(0, 60)
    ax.set_ylim(-20, 40)
    ax.set_yticks(range(-20, 41, 10))
    ax.set_yticklabels([f"{v}%" for v in range(-20, 41, 10)], fontsize=15.5,
                       family='DejaVu Sans')
    ax.set_xticks(range(0, 61, 10))
    ax.yaxis.grid(True, color='black', lw=1.3)
    ax.xaxis.grid(True, color='#555555', lw=0.9)
    ax.set_axisbelow(True)
    ax.tick_params(axis='y', length=6, width=0.8, color='#777777', pad=4)
    ax.tick_params(axis='x', length=0)
    for side in ['top', 'left', 'right']:
        ax.spines[side].set_linewidth(1.2)
    ax.spines['bottom'].set_linewidth(2.2)

    if i < 4:
        ax.set_xticklabels([])
    else:
        ax.set_xticklabels([str(v) for v in range(0, 61, 10)], fontsize=17,
                           family='DejaVu Serif')
        ax.tick_params(axis='x', pad=18)
        ax.set_xlabel("Module Temperature, \u00b0C", fontsize=15, fontweight='bold',
                      family='DejaVu Serif', labelpad=10)

    # module name in a box with a drop shadow
    label_tr = offset_copy(ax.transAxes, fig=fig, x=-12, y=-19, units='dots')
    t = ax.text(1.0, 1.0, name, transform=label_tr, ha='right', va='top', fontsize=16,
                family='DejaVu Serif', color='black',
                bbox=dict(boxstyle='square,pad=0.3', fc='white', ec='black', lw=1.2),
                zorder=7)
    t.get_bbox_patch().set_path_effects([
        pe.SimplePatchShadow(offset=(3.5, -3.5), shadow_rgbFace='#1a1a1a', alpha=1.0),
        pe.Normal(),
    ])

fig.savefig('out.png', dpi=100)
